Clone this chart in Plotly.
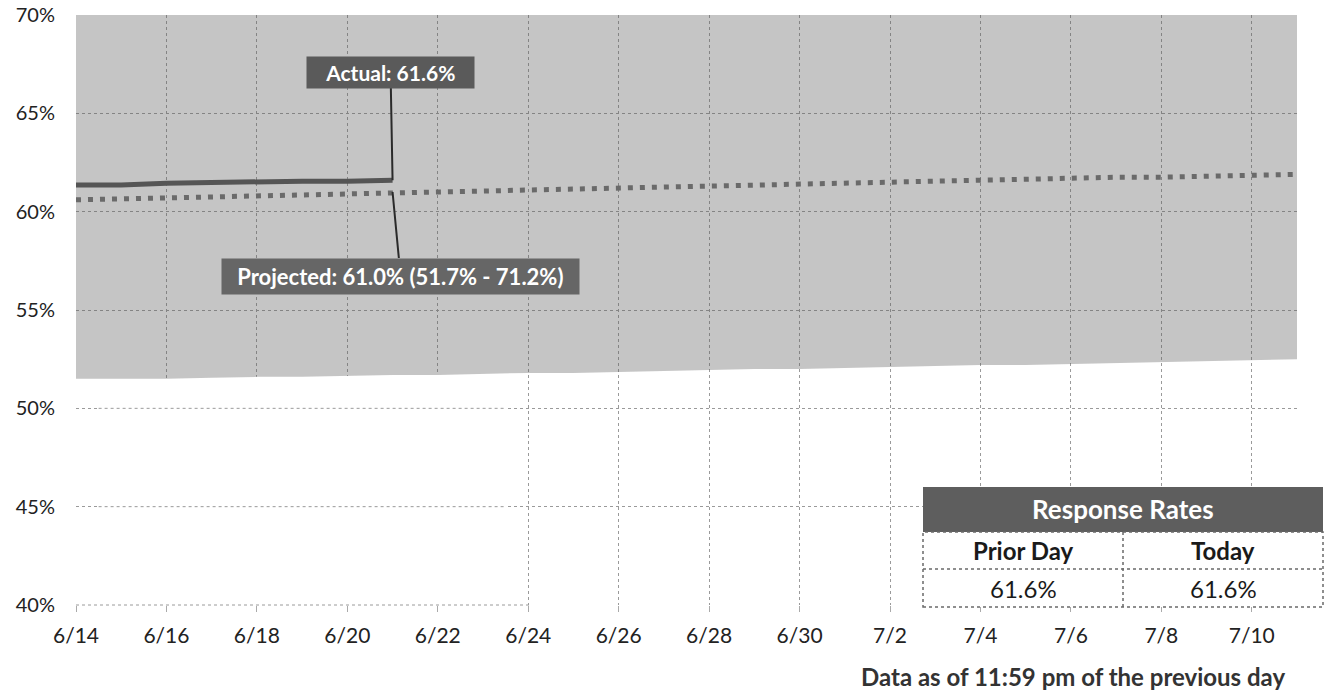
import plotly.graph_objects as go
import pandas as pd

# ---------------- data ----------------
dates = pd.date_range("2020-06-14", "2020-07-11", freq="D")
lower_bound = [51.5, 51.5, 51.5, 51.55, 51.6, 51.6, 51.65, 51.7, 51.7, 51.75,
               51.8, 51.8, 51.85, 51.9, 51.95, 52.0, 52.0, 52.05, 52.1, 52.15,
               52.2, 52.2, 52.25, 52.3, 52.35, 52.4, 52.45, 52.5]
upper_bound = [70.9, 70.95, 71.0, 71.05, 71.1, 71.1, 71.15, 71.2, 71.25, 71.3,
               71.35, 71.4, 71.4, 71.45, 71.5, 71.55, 71.6, 71.6, 71.65, 71.7,
               71.75, 71.8, 71.8, 71.85, 71.9, 71.95, 72.0, 72.0]
projected = [60.6, 60.65, 60.7, 60.75, 60.8, 60.85, 60.95, 61.0, 61.05, 61.1,
             61.15, 61.2, 61.25, 61.3, 61.35, 61.4, 61.45, 61.5, 61.5, 61.55,
             61.6, 61.65, 61.7, 61.75, 61.75, 61.8, 61.85, 61.9]
actual_dates = pd.date_range("2020-06-14", "2020-06-21", freq="D")
actual = [61.35, 61.35, 61.45, 61.5, 61.5, 61.55, 61.55, 61.6]

actual_label = "Actual: 61.6%"
projected_label = "Projected: 61.0% (51.7% - 71.2%)"
table_title = "Response Rates"
table_cols = ["Prior Day", "Today"]
table_vals = ["61.6%", "61.6%"]
footer = "Data as of 11:59 pm of the previous day"

FONT = "Lato"
GRID = "#9a9a9a"

fig = go.Figure()

# white area in lower-left (covers vertical gridlines there, as in the reference)
cover_x = [pd.Timestamp("2020-06-14 12:00")] + list(dates[1:10]) + [pd.Timestamp("2020-06-23 12:00")]
cover_y = [lower_bound[0]] + lower_bound[1:10] + [lower_bound[9]]
fig.add_trace(go.Scatter(x=cover_x, y=cover_y, mode="lines", fill="tozeroy",
                         fillcolor="white", line=dict(width=0, color="white"),
                         hoverinfo="skip", showlegend=False))

# band (lower, then upper filled to lower)
fig.add_trace(go.Scatter(x=dates, y=lower_bound, mode="lines",
                         line=dict(width=0, color="rgba(0,0,0,0)"),
                         hoverinfo="skip", showlegend=False))
fig.add_trace(go.Scatter(x=dates, y=upper_bound, mode="lines", fill="tonexty",
                         fillcolor="rgba(95,95,95,0.36)",
                         line=dict(width=0, color="rgba(0,0,0,0)"),
                         hoverinfo="skip", showlegend=False))
# projected dotted line
fig.add_trace(go.Scatter(x=dates, y=projected, mode="lines",
                         line=dict(color="#6a6a6a", width=5, dash="5px,7px"),
                         showlegend=False))
# actual line
fig.add_trace(go.Scatter(x=actual_dates, y=actual, mode="lines",
                         line=dict(color="#555555", width=5),
                         showlegend=False))

# ------------- pixel helpers for paper coords -------------
L, R, T, B = 76, 1297, 15, 605
def px_x(px):
    return (px - L) / (R - L)
def px_y(py):
    return (B - py) / (B - T)

shapes = []
# redraw horizontal gridlines over the white cover
for yv in [45, 50]:
    shapes.append(dict(type="line", xref="x", yref="y", layer="above",
                       x0="2020-06-14 12:00", x1="2020-06-23 12:00", y0=yv, y1=yv,
                       line=dict(color=GRID, width=1, dash="dot")))
shapes.append(dict(type="line", xref="paper", yref="paper", layer="above",
                   x0=0, x1=px_x(530), y0=0, y1=0,
                   line=dict(color=GRID, width=1, dash="dot")))

# table
tl, tm, tr = 923, 1123, 1323
ty0, ty1, ty2, ty3 = 487, 532, 569, 607
border = dict(color="#6a6a6a", width=1.5, dash="dot")
shapes.append(dict(type="rect", xref="paper", yref="paper", layer="above",
                   x0=px_x(tl), x1=px_x(tr), y0=px_y(ty1), y1=px_y(ty0),
                   fillcolor="#5e5e5e", line=dict(width=0)))
shapes.append(dict(type="rect", xref="paper", yref="paper", layer="above",
                   x0=px_x(tl), x1=px_x(tr), y0=px_y(ty3), y1=px_y(ty1),
                   fillcolor="white", line=border))
shapes.append(dict(type="line", xref="paper", yref="paper", layer="above",
                   x0=px_x(tl), x1=px_x(tr), y0=px_y(ty2), y1=px_y(ty2),
                   line=border))
shapes.append(dict(type="line", xref="paper", yref="paper", layer="above",
                   x0=px_x(tm), x1=px_x(tm), y0=px_y(ty3), y1=px_y(ty1),
                   line=border))

NB = "&nbsp;"
annotations = []
annotations.append(dict(x=actual_dates[-1], y=actual[-1], xref="x", yref="y",
                        text=NB * 3 + "<b>%s</b>" % actual_label + NB * 3, showarrow=True,
                        arrowhead=0, arrowwidth=2, arrowcolor="#2a2a2a",
                        ax=-2, ay=-108, bgcolor="#5a5a5a", borderpad=3,
                        font=dict(family=FONT, size=21, color="white")))
annotations.append(dict(x=dates[7], y=projected[7], xref="x", yref="y",
                        text=NB * 2 + "<b>%s</b>" % projected_label + NB * 2, showarrow=True,
                        arrowhead=0, arrowwidth=2, arrowcolor="#2a2a2a",
                        ax=8, ay=84, bgcolor="#666666", borderpad=4,
                        font=dict(family=FONT, size=22, color="white")))
# table text
annotations.append(dict(x=px_x((tl + tr) / 2), y=px_y((ty0 + ty1) / 2), xref="paper", yref="paper",
                        xanchor="center", yanchor="middle",
                        text="<b>%s</b>" % table_title, showarrow=False,
                        font=dict(family=FONT, size=26, color="white")))
for i, (c, v) in enumerate(zip(table_cols, table_vals)):
    cx = px_x((tl + tm) / 2 if i == 0 else (tm + tr) / 2)
    annotations.append(dict(x=cx, y=px_y((ty1 + ty2) / 2), xref="paper", yref="paper",
                            xanchor="center", yanchor="middle",
                            text="<b>%s</b>" % c, showarrow=False,
                            font=dict(family=FONT, size=24, color="#1a1a1a")))
    annotations.append(dict(x=cx, y=px_y((ty2 + ty3) / 2), xref="paper", yref="paper",
                            xanchor="center", yanchor="middle",
                            text=v, showarrow=False,
                            font=dict(family=FONT, size=24, color="#1a1a1a")))
annotations.append(dict(x=px_x(1073), y=px_y(676), xref="paper", yref="paper",
                        xanchor="center", yanchor="middle",
                        text="<b>%s</b>" % footer, showarrow=False,
                        font=dict(family=FONT, size=24, color="#333333")))

fig.update_layout(
    width=1330, height=699,
    margin=dict(l=L, r=1330 - R, t=T, b=699 - B, autoexpand=False),
    plot_bgcolor="white", paper_bgcolor="white",
    font=dict(family=FONT, size=20, color="#222222"),
    shapes=shapes, annotations=annotations,
    xaxis=dict(range=["2020-06-14", "2020-07-11"], type="date",
               tick0="2020-06-14", dtick=2 * 86400000, tickformat="%-m/%-d",
               showgrid=True, gridcolor=GRID, griddash="dot", gridwidth=1,
               ticks="outside", ticklen=6, tickcolor="#aaaaaa",
               ticklabelstandoff=6, zeroline=False, showline=False,
               automargin=False,
               tickfont=dict(family=FONT, size=21, color="#222222")),
    yaxis=dict(range=[40, 70], dtick=5, ticksuffix="%",
               showgrid=True, gridcolor=GRID, griddash="dot", gridwidth=1,
               zeroline=False, showline=False, ticklabelstandoff=20,
               automargin=False,
               tickfont=dict(family=FONT, size=20, color="#222222")),
)

fig.write_html("out.html", config={"displayModeBar": False},
               post_script="document.body.style.margin='0';")
